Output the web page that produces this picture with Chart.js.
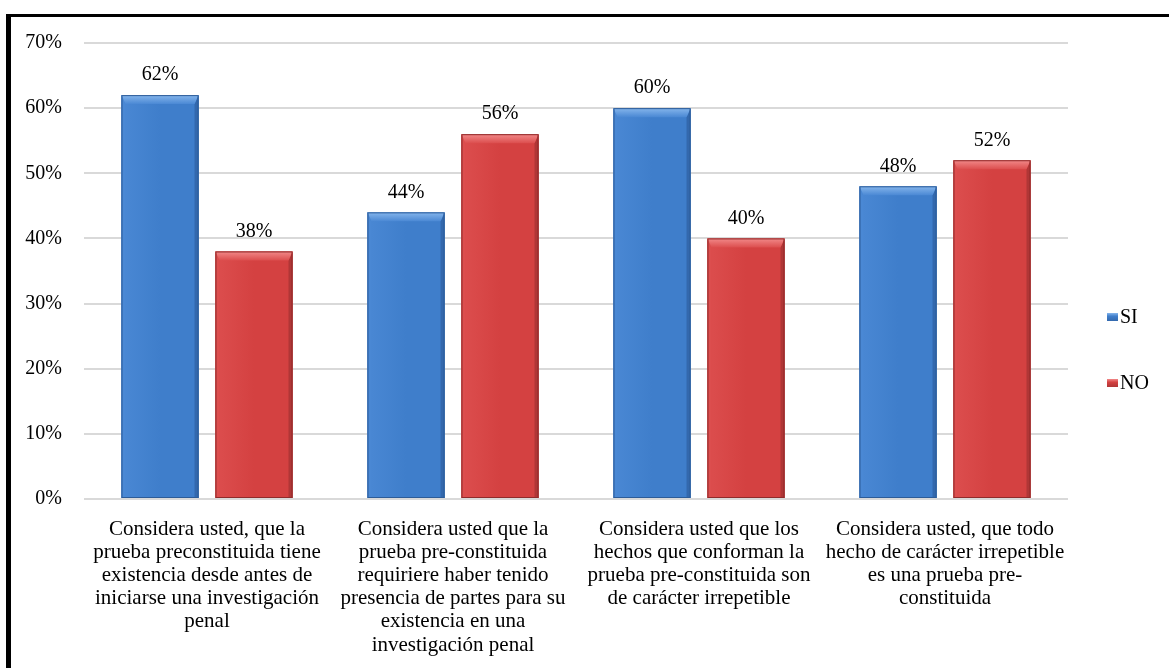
<!DOCTYPE html>
<html>
<head>
<meta charset="utf-8">
<script src="https://cdn.jsdelivr.net/npm/chart.js@4.4.1/dist/chart.umd.min.js"></script>
<style>
  html, body { margin: 0; padding: 0; background: #fff; overflow: hidden; }
  #wrap { position: relative; width: 1169px; height: 668px; }
  #frame {
    position: absolute; left: 6px; top: 14px; width: 1300px; height: 800px;
    border-top: 3px solid #000; border-left: 5px solid #000; pointer-events: none;
  }
  canvas { position: absolute; left: 0; top: 0; }
</style>
</head>
<body>
<div id="wrap">
  <canvas id="c" width="1169" height="668"></canvas>
  <div id="frame"></div>
</div>
<script>
// Survey questions (category labels, one entry per wrapped line)
const categories = [
  ["Considera usted, que la", "prueba preconstituida tiene", "existencia desde antes de", "iniciarse una investigación", "penal"],
  ["Considera usted que la", "prueba pre-constituida", "requiriere haber tenido", "presencia de partes para su", "existencia en una", "investigación penal"],
  ["Considera usted que los", "hechos que conforman la", "prueba pre-constituida son", "de carácter irrepetible"],
  ["Considera usted, que todo", "hecho de carácter irrepetible", "es una prueba pre-", "constituida"]
];
const seriesNames = ["SI", "NO"];
const siValues = [62, 44, 60, 48];
const noValues = [38, 56, 40, 52];
const yMin = 0, yMax = 70, yStep = 10;

const FONT = '"Liberation Serif", "Times New Roman", serif';

const palette = {
  SI: { body: '#3f7ecb', light: '#86b6ec', mid: '#4a88d4', dark: '#3368ad', edge: '#2d5c98' },
  NO: { body: '#d44141', light: '#f28a8a', mid: '#dc4e4e', dark: '#b03636', edge: '#8f2b2b' }
};

// Adds the bevelled look on top of each bar
const bevelBars = {
  id: 'bevelBars',
  afterDatasetDraw(chart, args) {
    const ctx = chart.ctx;
    const ds = chart.data.datasets[args.index];
    const col = palette[ds.label];
    args.meta.data.forEach(el => {
      const p = el.getProps(['x', 'y', 'base', 'width'], true);
      const l = p.x - p.width / 2, r = p.x + p.width / 2, t = p.y, b = p.base;
      const d = 9, s = 4;
      ctx.save();
      // body
      const g = ctx.createLinearGradient(l, 0, r, 0);
      g.addColorStop(0, col.mid);
      g.addColorStop(0.5, col.body);
      g.addColorStop(1, col.body);
      ctx.fillStyle = g;
      ctx.fillRect(l, t, r - l, b - t);
      // left bevel
      ctx.fillStyle = col.mid;
      ctx.beginPath();
      ctx.moveTo(l, t); ctx.lineTo(l + s, t + d); ctx.lineTo(l + s, b); ctx.lineTo(l, b); ctx.closePath();
      ctx.fill();
      // right bevel
      ctx.fillStyle = col.dark;
      ctx.beginPath();
      ctx.moveTo(r, t); ctx.lineTo(r - s, t + d); ctx.lineTo(r - s, b); ctx.lineTo(r, b); ctx.closePath();
      ctx.fill();
      // top bevel
      const tg = ctx.createLinearGradient(0, t, 0, t + d);
      tg.addColorStop(0, col.light);
      tg.addColorStop(1, col.mid);
      ctx.fillStyle = tg;
      ctx.beginPath();
      ctx.moveTo(l, t); ctx.lineTo(r, t); ctx.lineTo(r - s, t + d); ctx.lineTo(l + s, t + d); ctx.closePath();
      ctx.fill();
      // outline
      ctx.strokeStyle = col.edge;
      ctx.lineWidth = 1;
      ctx.strokeRect(l + 0.5, t + 0.5, r - l - 1, b - t - 1);
      ctx.restore();
    });
  }
};

// Percentage labels above the bars
const valueLabels = {
  id: 'valueLabels',
  afterDatasetsDraw(chart) {
    const ctx = chart.ctx;
    ctx.save();
    ctx.font = '20px ' + FONT;
    ctx.fillStyle = '#000';
    ctx.textAlign = 'center';
    ctx.textBaseline = 'middle';
    chart.data.datasets.forEach((ds, i) => {
      chart.getDatasetMeta(i).data.forEach((el, j) => {
        ctx.fillText(ds.data[j] + '%', el.x, el.y - 20);
      });
    });
    ctx.restore();
  }
};

// Legend on the right side
const sideLegend = {
  id: 'sideLegend',
  afterDraw(chart) {
    const ctx = chart.ctx;
    const a = chart.chartArea;
    ctx.save();
    ctx.font = '20px ' + FONT;
    ctx.textBaseline = 'middle';
    ctx.textAlign = 'left';
    chart.data.datasets.forEach((ds, i) => {
      const col = palette[ds.label];
      const x = a.right + 39;
      const y = a.top + 274 + i * 66;
      const g = ctx.createLinearGradient(0, y - 4, 0, y + 4);
      g.addColorStop(0, col.light);
      g.addColorStop(0.4, col.body);
      g.addColorStop(1, col.dark);
      ctx.fillStyle = g;
      ctx.fillRect(x, y - 4, 11, 8);
      ctx.fillStyle = '#000';
      ctx.fillText(ds.label, x + 13, y + 1);
    });
    ctx.restore();
  }
};

function build() {
  new Chart(document.getElementById('c'), {
    type: 'bar',
    data: {
      labels: categories,
      datasets: [
        { label: seriesNames[0], data: siValues, backgroundColor: palette.SI.body },
        { label: seriesNames[1], data: noValues, backgroundColor: palette.NO.body }
      ]
    },
    options: {
      responsive: false,
      animation: false,
      devicePixelRatio: 1,
      categoryPercentage: 0.764,
      barPercentage: 0.82,
      layout: { padding: { left: 0, right: 101, top: 43, bottom: 0 } },
      plugins: { legend: { display: false }, tooltip: { enabled: false } },
      scales: {
        x: {
          grid: { display: false },
          border: { display: false },
          ticks: {
            color: '#000',
            font: { family: FONT, size: 21, lineHeight: 1.1 },
            padding: 11,
            maxRotation: 0,
            autoSkip: false
          },
          afterFit(scale) { scale.height = 169; }
        },
        y: {
          min: yMin, max: yMax,
          grid: { color: '#d9d9d9', lineWidth: 2, drawTicks: false },
          border: { display: false },
          ticks: {
            stepSize: yStep,
            color: '#000',
            font: { family: FONT, size: 20 },
            padding: 22,
            callback: v => v + '%'
          },
          afterFit(scale) { scale.width = 84; }
        }
      }
    },
    plugins: [bevelBars, valueLabels, sideLegend]
  });
}

document.fonts.load('20px "Liberation Serif"').then(build, build);
</script>
</body>
</html>
